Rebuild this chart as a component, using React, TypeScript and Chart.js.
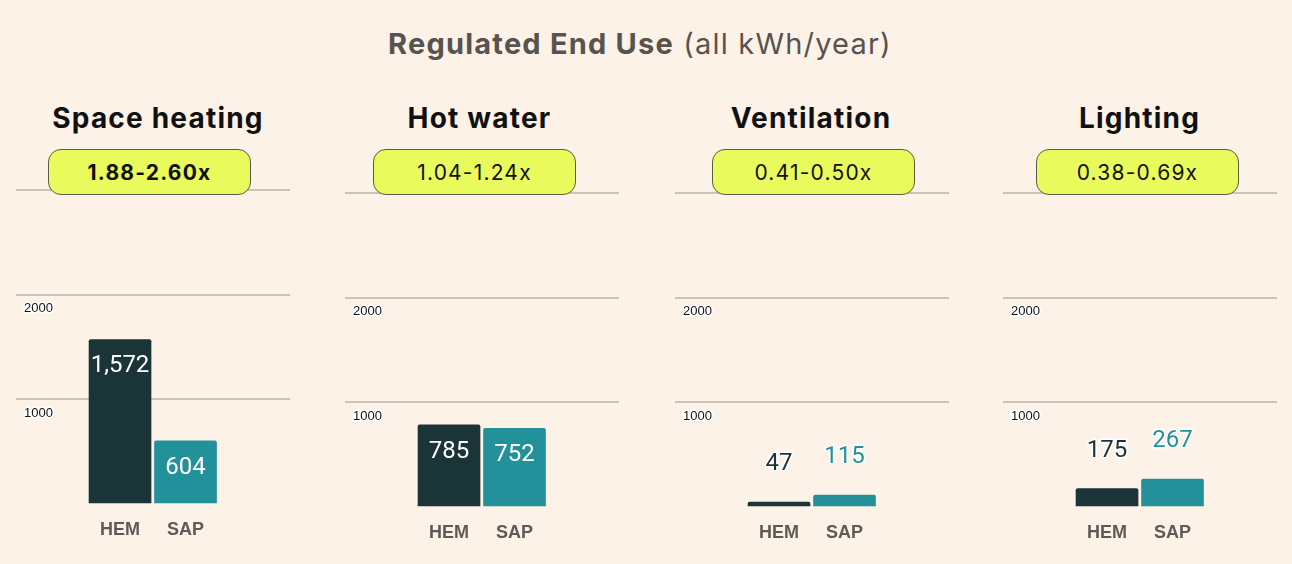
import React, { useEffect, useRef } from "react";
import { Chart, registerables } from "chart.js";

Chart.register(...registerables);

const panelTitles = ["Space heating", "Hot water", "Ventilation", "Lighting"];
const ratioLabels = ["1.88-2.60x", "1.04-1.24x", "0.41-0.50x", "0.38-0.69x"];
const categories = ["HEM", "SAP"];
const hemValues = [1572, 785, 47, 175];
const sapValues = [604, 752, 115, 267];
const yTickStep = 1000;
const yMax = 3000;

const BG = "#FDF2E7";
const HEM_COLOR = "#1B3438";
const SAP_COLOR = "#22919A";
const GRID_COLOR = "#CEC3B8";

// layout (style only)
const panelLefts = [16, 345, 675, 1003];
const panelTops = [185, 188, 188, 188];
const titleCenters = [158, 479.5, 811, 1139.5];
const badgeLefts = [48, 373, 712, 1036];
const CANVAS_W = 274;
const CANVAS_H = 355;

const valueLabelPlugin = {
  id: "valueLabels",
  afterDatasetsDraw(chart: any) {
    const ctx = chart.ctx;
    chart.data.datasets.forEach((ds: any, di: number) => {
      const meta = chart.getDatasetMeta(di);
      meta.data.forEach((bar: any, i: number) => {
        const raw = ds.data[i];
        const v = typeof raw === "object" ? raw.y : raw;
        const text = v.toLocaleString("en-US");
        const h = bar.base - bar.y;
        ctx.save();
        ctx.font = "24px Roboto";
        ctx.textAlign = "center";
        ctx.textBaseline = "middle";
        if (h > 45) {
          ctx.fillStyle = "#FFFFFF";
          ctx.fillText(text, bar.x, bar.y + 27);
        } else {
          const col = Array.isArray(ds.backgroundColor) ? ds.backgroundColor[i] : ds.backgroundColor;
          ctx.lineWidth = 3;
          ctx.strokeStyle = "#FFFFFF";
          ctx.lineJoin = "round";
          ctx.strokeText(text, bar.x, bar.y - 38);
          ctx.fillStyle = col;
          ctx.fillText(text, bar.x, bar.y - 38);
        }
        ctx.restore();
      });
    });
  },
};

function Panel({ index }: { index: number }) {
  const ref = useRef<HTMLCanvasElement | null>(null);
  useEffect(() => {
    if (!ref.current) return;
    const values = [hemValues[index], sapValues[index]];
    const chart = new Chart(ref.current, {
      type: "bar",
      data: {
        datasets: [
          {
            label: panelTitles[index],
            data: categories.map((c, i) => ({ x: i, y: values[i] })),
            backgroundColor: [HEM_COLOR, SAP_COLOR],
            barThickness: 62,
            borderRadius: 2,
            borderSkipped: "start",
          },
        ],
      },
      options: {
        animation: false,
        responsive: false,
        devicePixelRatio: 1,
        layout: { padding: { top: 5, left: 0, right: 0, bottom: 0 } },
        plugins: { legend: { display: false }, tooltip: { enabled: false } },
        scales: {
          x: {
            type: "linear",
            min: -1.588,
            max: 2.595,
            offset: false,
            grid: { display: false, drawTicks: false },
            border: { display: false },
            afterBuildTicks: (axis: any) => {
              axis.ticks = categories.map((_, i) => ({ value: i }));
            },
            afterFit: (axis: any) => {
              axis.height = 36;
              axis.paddingLeft = 0;
              axis.paddingRight = 0;
            },
            ticks: {
              autoSkip: false,
              maxRotation: 0,
              padding: 15,
              color: "#5E5A57",
              font: { family: "Liberation Sans", size: 18, weight: "bold" },
              callback: (v: any) => categories[v] ?? "",
            },
          },
          y: {
            min: 0,
            max: yMax,
            afterFit: (axis: any) => {
              axis.width = 0;
              axis.paddingTop = 0;
              axis.paddingBottom = 0;
            },
            grid: {
              drawTicks: false,
              lineWidth: 2,
              color: (c: any) => (c.tick && c.tick.value === 0 ? "rgba(0,0,0,0)" : GRID_COLOR),
            },
            border: { display: false },
            ticks: {
              stepSize: yTickStep,
              mirror: true,
              padding: 8,
              labelOffset: 14,
              color: "#111111",
              textStrokeColor: "#FFFFFF",
              textStrokeWidth: 3,
              font: { family: "Liberation Sans", size: 13 },
              callback: (v: any) => (v > 0 && v < yMax ? String(v) : ""),
            },
          },
        },
      } as any,
      plugins: [valueLabelPlugin],
    });
    return () => chart.destroy();
  }, [index]);

  return (
    <>
      <div
        style={{
          position: "absolute",
          left: titleCenters[index] - 150,
          width: 300,
          top: 101,
          lineHeight: "34px",
          textAlign: "center",
          fontFamily: "Inter",
          fontWeight: 700,
          fontSize: 28,
          letterSpacing: "1.2px",
          color: "#111111",
        }}
      >
        {panelTitles[index]}
      </div>
      <canvas
        ref={ref}
        width={CANVAS_W}
        height={CANVAS_H}
        style={{ position: "absolute", left: panelLefts[index], top: panelTops[index], width: CANVAS_W, height: CANVAS_H }}
      />
      <div
        style={{
          position: "absolute",
          left: badgeLefts[index],
          top: 149,
          width: 203,
          height: 46,
          boxSizing: "border-box",
          border: "1px solid #5A5A48",
          borderRadius: 13,
          background: "#E9FA5D",
          display: "flex",
          alignItems: "center",
          justifyContent: "center",
          fontFamily: "Inter",
          fontSize: 21,
          letterSpacing: "1.2px",
          fontWeight: index === 0 ? 700 : 400,
          color: "#111111",
        }}
      >
        {ratioLabels[index]}
      </div>
    </>
  );
}

export default function App() {
  return (
    <div
      style={{
        position: "fixed",
        left: 0,
        top: 0,
        width: 1292,
        height: 564,
        background: BG,
        overflow: "hidden",
      }}
    >
      <div
        style={{
          position: "absolute",
          left: 0,
          width: 1280,
          top: 26,
          lineHeight: "36px",
          textAlign: "center",
          fontFamily: "Inter",
          fontSize: 29,
          letterSpacing: "1.2px",
          color: "#58534F",
        }}
      >
        <span style={{ fontWeight: 700 }}>Regulated End Use</span> <span>(all kWh/year)</span>
      </div>
      {panelTitles.map((_, i) => (
        <Panel key={i} index={i} />
      ))}
    </div>
  );
}
